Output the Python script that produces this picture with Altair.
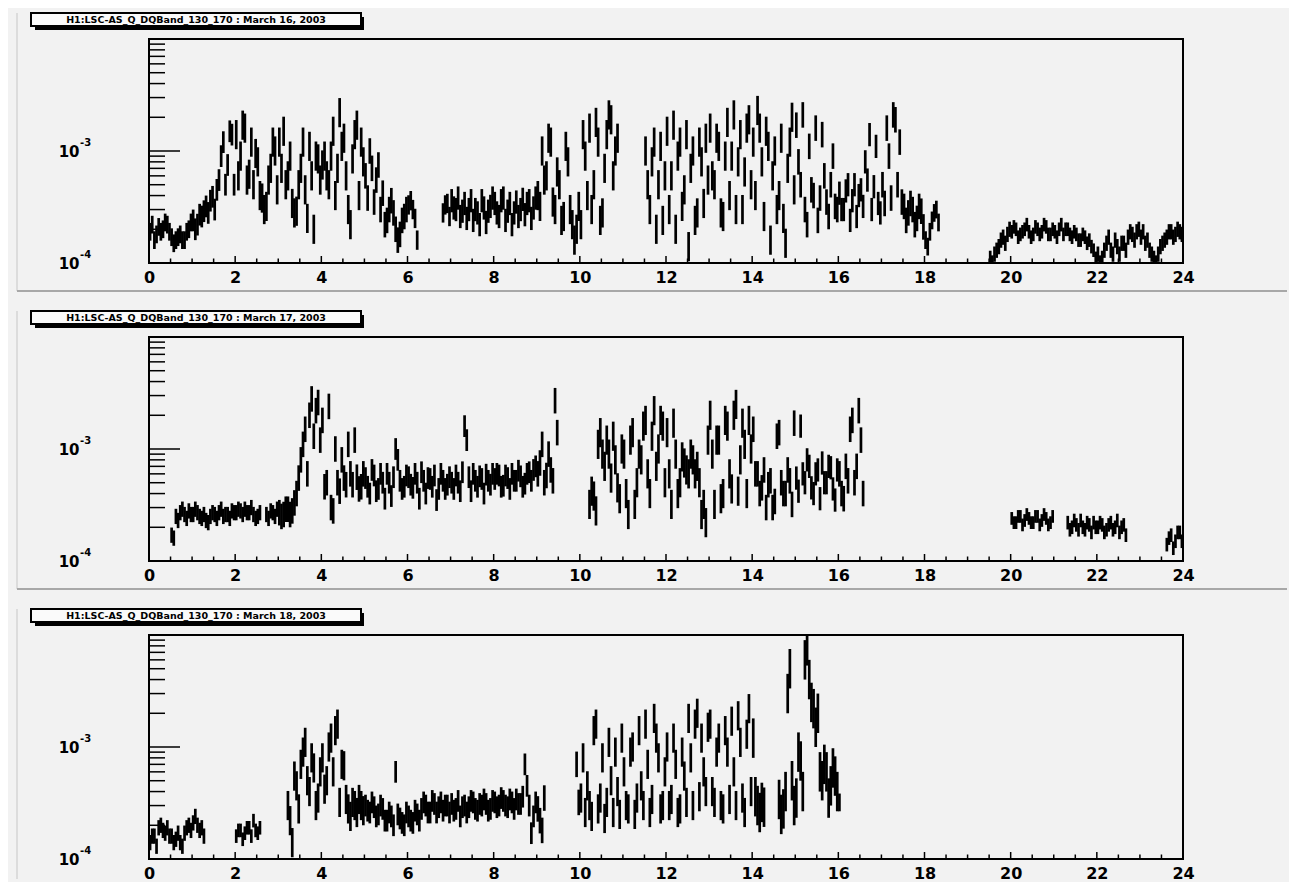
import altair as alt
import pandas as pd

N = None
STEP = 0.1  # hours per bin; each bin holds two readings (a and b)

titles = [
    "H1:LSC-AS_Q_DQBand_130_170 : March 16, 2003",
    "H1:LSC-AS_Q_DQBand_130_170 : March 17, 2003",
    "H1:LSC-AS_Q_DQBand_130_170 : March 18, 2003",
]

# band RMS level, in units of 1e-4 (None = no data); 10 bins per hour, two readings per bin
mar16_a = [
    1.9, 1.6, 2.1, 2.0, 2.2, 1.7, 1.6, 1.8, 1.6, 2.0,
    2.4, 2.2, 2.6, 3.2, 3.6, 3.0, 5.5, 12.0, 7.5, 14.0,
    14.0, 9.0, 16.0, 6.2, 5.0, 8.0, 3.8, 3.2, 7.0, 10.0,
    12.0, 15.0, 6.0, 3.4, 2.9, 7.0, 4.5, 11.0, 2.0, 8.5,
    7.5, 6.0, 9.0, 4.0, 22.0, 13.0, 3.0, 8.5, 17.0, 12.0,
    6.0, 10.0, 3.5, 7.5, 4.2, 2.4, 3.6, 2.0, 1.8, 2.6,
    3.3, 3.0, 1.6, N, N, N, N, N, 2.8, 3.4,
    3.6, 3.0, 2.6, 3.4, 3.0, 2.4, 2.8, 3.6, 2.3, 3.2,
    3.4, 2.6, 3.8, 2.9, 2.2, 3.5, 3.0, 2.7, 3.6, 3.1,
    4.0, 10.0, 6.0, 12.0, 3.0, 5.0, 2.6, 8.0, 2.2, 2.0,
    2.2, 9.0, 16.0, 5.0, 12.0, 2.8, 14.0, 19.0, 10.0, N,
    N, N, N, N, N, 10.0, 3.0, 12.0, 5.0, 2.4,
    15.0, 6.0, 2.0, 12.0, 4.5, 1.4, 10.0, 2.8, 8.0, 13.0,
    16.0, 5.0, 11.0, 2.6, 18.0, 9.0, 3.0, 14.0, 6.5, 19.0,
    12.0, 23.0, 8.0, 15.0, 1.6, 10.0, 4.0, 2.5, 7.0, 20.0,
    17.0, 5.0, 3.0, 11.0, 4.0, 2.4, 14.0, 3.5, 5.0, 3.2,
    4.2, 3.0, 5.0, 3.6, 2.6, 4.5, 8.0, 14.0, 4.8, 3.4,
    5.0, 16.0, 3.8, 19.0, 12.0, 3.2, 2.8, 3.0, 2.5, 2.9,
    1.6, 1.9, 2.8, 2.3, N, N, N, N, N, N,
    N, N, N, N, N, 1.1, 1.2, 1.4, 1.7, 1.8,
    1.9, 2.0, 1.8, 2.0, 1.9, 1.8, 2.0, 1.9, 2.1, 1.8,
    1.9, 2.0, 1.8, 2.0, 1.7, 1.8, 1.6, 1.7, 1.6, 1.3,
    1.2, 1.1, 1.5, 1.3, 1.6, 1.2, 1.5, 1.7, 1.8, 1.9,
    1.7, 1.5, 1.3, 1.1, 1.2, 1.5, 1.7, 1.9, 1.8, 1.9,
]
mar16_b = [
    2.2, 1.8, 1.9, 2.3, 1.9, 1.5, 1.7, 1.6, 1.9, 2.3,
    2.0, 2.7, 2.9, 2.8, 3.9, 4.5, 9.0, 5.0, 15.0, 5.0,
    6.0, 17.0, 5.5, 12.0, 9.5, 4.0, 3.0, 5.5, 12.0, 4.5,
    7.0, 5.0, 9.0, 2.8, 5.0, 12.0, 2.5, 6.0, 9.0, 5.5,
    9.0, 5.0, 15.0, 7.0, 11.0, 6.0, 2.2, 14.0, 4.0, 8.0,
    3.8, 7.0, 5.5, 3.0, 2.2, 3.0, 2.8, 1.6, 2.4, 3.0,
    3.6, 2.5, N, N, N, N, N, N, 3.3, 2.6,
    3.1, 3.8, 2.9, 2.5, 3.6, 3.0, 2.2, 3.1, 2.9, 3.8,
    2.8, 3.6, 2.4, 3.4, 2.8, 2.6, 3.7, 3.4, 2.5, 3.8,
    3.2, 5.5, 13.0, 3.5, 6.5, 2.4, 11.0, 3.0, 1.6, 3.2,
    14.0, 4.0, 3.0, 18.0, 2.4, 7.0, 21.0, 6.0, 13.0, N,
    N, N, N, N, N, 5.0, 8.0, 2.0, 11.0, 6.0,
    3.0, 17.0, 9.0, 3.2, 14.0, 7.0, 2.4, 12.0, 3.4, 5.5,
    6.0, 13.0, 2.8, 9.0, 4.0, 21.0, 8.0, 3.0, 16.0, 5.0,
    4.0, 16.0, 2.6, 11.0, 6.0, 3.0, 13.0, 1.5, 12.0, 4.5,
    8.0, 21.0, 2.2, 4.5, 16.0, 3.8, 6.0, 2.6, 9.0, 3.0,
    3.0, 4.4, 2.4, 5.0, 4.0, 3.2, 5.5, 3.0, 11.0, 2.8,
    3.4, 9.0, 21.0, 5.0, 3.5, 2.4, 3.4, 2.2, 3.2, 2.1,
    1.4, 2.4, 3.0, N, N, N, N, N, N, N,
    N, N, N, N, N, 1.0, 1.3, 1.6, 1.5, 2.0,
    2.1, 1.7, 1.9, 2.2, 1.7, 2.1, 1.8, 2.2, 1.8, 2.0,
    1.7, 2.2, 2.0, 1.8, 1.9, 1.6, 1.8, 1.5, 1.4, 1.1,
    1.0, 1.3, 1.7, 1.2, 1.4, 1.5, 1.3, 1.9, 1.6, 2.0,
    1.9, 1.6, 1.2, 1.0, 1.4, 1.6, 1.9, 1.7, 2.0, 1.8,
]
mar16_spread = [1.2, 1.25, 1.35, 1.35, 1.35, 1.3, 1.22, 1.27, 1.27, 1.35, 1.35, 1.35,
                1.35, 1.35, 1.35, 1.3, 1.27, 1.3, 1.2, 1.17, 1.15, 1.15, 1.17, 1.17]

mar17_a = [
    N, N, N, N, N, 1.7, 2.5, 2.7, 2.6, 2.8,
    2.6, 2.7, 2.4, 2.3, 2.5, 2.6, 2.7, 2.5, 2.6, 2.8,
    2.7, 2.8, 2.9, 2.7, 2.6, 2.5, N, 2.6, 2.8, 2.5,
    2.7, 2.6, 2.9, 2.8, 4.0, 8.0, 15.0, 20.0, 13.0, 26.0,
    18.0, 5.0, 3.0, 10.0, 4.2, 5.5, 11.0, 4.8, 5.6, 4.6,
    5.5, 4.0, 5.8, 4.4, 5.0, 6.0, 3.8, 10.0, 5.2, 4.6,
    5.6, 4.5, 5.0, 6.2, 4.0, 5.4, 5.8, 4.4, 5.2, 4.8,
    5.0, 5.8, 4.2, 16.0, 5.6, 6.0, 4.6, 5.4, 5.9, 4.8,
    5.4, 5.8, 4.7, 5.5, 6.0, 5.2, 5.7, 4.9, 6.2, 6.5,
    6.0, 11.0, 5.8, 6.5, 27.0, N, N, N, N, N,
    N, N, 3.2, 3.8, 11.0, 9.0, 12.0, 5.5, 8.0, 3.6,
    9.0, 2.6, 14.0, 5.0, 8.0, 18.0, 4.0, 22.0, 10.0, 16.0,
    14.0, 3.2, 9.0, 5.0, 7.5, 6.0, 8.0, 7.0, 2.6, 2.2,
    20.0, 3.2, 12.0, 4.0, 16.0, 4.4, 25.0, 8.0, 11.0, 18.0,
    15.0, 6.0, 4.5, 3.0, 5.2, 3.4, 14.0, 4.0, 6.5, 3.2,
    5.5, 16.0, 5.0, 7.0, 4.0, 6.5, 7.5, 5.0, 6.8, 3.5,
    6.0, 3.6, 5.2, 18.0, 7.0, 12.0, N, N, N, N,
    N, N, N, N, N, N, N, N, N, N,
    N, N, N, N, N, N, N, N, N, N,
    N, N, N, N, N, N, N, N, N, N,
    2.4, 2.2, 2.5, 2.3, 2.4, 2.2, 2.5, 2.3, 2.4, 2.2,
    N, N, N, 2.2, 2.0, 2.1, 2.3, 1.9, 2.1, 2.2,
    2.0, 2.1, 1.9, 2.2, 2.0, 1.8, 2.1, N, N, N,
    N, N, N, N, N, N, 1.4, 1.7, 1.5, 1.8,
]
mar17_b = [
    N, N, N, N, N, 1.6, 2.3, 2.9, 2.4, 2.6,
    2.9, 2.5, 2.6, 2.2, 2.7, 2.4, 2.9, 2.6, 2.4, 2.7,
    2.9, 2.6, 2.7, 3.0, 2.4, 2.7, N, 2.4, 2.7, 2.9,
    2.5, 2.9, 2.6, 3.3, 5.5, 11.0, 6.0, 28.0, 22.0, 12.0,
    4.6, 24.0, 2.8, 5.0, 8.0, 4.8, 6.0, 12.0, 4.4, 6.0,
    4.6, 6.5, 4.2, 6.0, 3.6, 5.0, 5.6, 8.0, 4.4, 5.8,
    4.8, 6.0, 3.6, 5.2, 5.5, 4.6, 3.5, 6.0, 4.4, 5.6,
    4.4, 5.0, 6.2, 12.0, 4.2, 5.2, 5.7, 4.0, 5.2, 6.0,
    6.0, 4.6, 5.8, 4.4, 5.2, 6.4, 4.6, 6.0, 5.2, 7.0,
    7.5, 5.0, 9.0, 5.2, 14.0, N, N, N, N, N,
    N, N, 4.2, 2.8, 14.0, 7.0, 9.0, 13.0, 4.5, 10.0,
    4.0, 12.0, 3.2, 9.0, 16.0, 6.0, 13.0, 7.0, 18.0, 5.0,
    6.0, 17.0, 4.0, 8.5, 6.5, 9.0, 6.0, 5.0, 3.2, 12.0,
    9.0, 12.0, 3.6, 18.0, 6.0, 20.0, 4.2, 17.0, 4.0, 10.0,
    6.0, 4.0, 6.5, 4.8, 3.0, 13.0, 5.0, 4.0, 5.2, 17.0,
    4.2, 6.0, 8.0, 4.5, 6.0, 3.6, 5.0, 7.0, 4.4, 6.5,
    4.0, 7.0, 15.0, 5.0, 22.0, 4.0, N, N, N, N,
    N, N, N, N, N, N, N, N, N, N,
    N, N, N, N, N, N, N, N, N, N,
    N, N, N, N, N, N, N, N, N, N,
    2.2, 2.5, 2.1, 2.6, 2.2, 2.5, 2.1, 2.6, 2.1, 2.5,
    N, N, N, 1.9, 2.3, 1.9, 2.0, 2.2, 1.8, 2.0,
    2.2, 1.8, 2.1, 1.9, 2.3, 2.0, 1.7, N, N, N,
    N, N, N, N, N, N, 1.6, 1.3, 1.8, 1.5,
]
mar17_spread = [1.17, 1.17, 1.17, 1.3, 1.3, 1.25, 1.25, 1.25, 1.25, 1.3, 1.35, 1.35,
                1.35, 1.35, 1.3, 1.27, 1.3, 1.0, 1.0, 1.0, 1.14, 1.15, 1.15, 1.15]

mar18_a = [
    1.4, 1.6, 1.9, 1.8, 1.9, 1.6, 1.5, 1.4, 1.7, 2.0,
    2.1, 2.0, 1.9, N, N, N, N, N, N, N,
    1.6, 1.8, 1.7, 1.9, 2.2, 1.7, N, N, N, N,
    N, N, 3.0, 1.4, 4.5, 7.0, 11.0, 4.0, 6.5, 3.5,
    8.0, 5.0, 12.0, 14.0, 3.2, 6.8, 2.8, 3.2, 2.6, 3.0,
    3.0, 2.6, 2.9, 2.5, 2.8, 2.2, 2.4, 6.0, 2.3, 2.0,
    2.4, 2.1, 2.5, 2.8, 3.0, 2.6, 3.1, 2.9, 2.7, 3.0,
    3.1, 2.8, 2.4, 3.0, 2.9, 3.2, 2.7, 3.0, 3.1, 2.8,
    3.2, 3.0, 3.3, 2.9, 3.2, 3.4, 3.1, 7.0, 3.0, 2.4,
    2.8, 1.8, N, N, N, N, N, N, N, 7.0,
    3.5, 2.6, 3.0, 14.0, 2.8, 8.0, 3.2, 5.0, 9.0, 2.5,
    6.0, 2.8, 10.0, 3.5, 4.5, 16.0, 2.6, 18.0, 8.0, 3.0,
    10.0, 3.4, 7.0, 2.8, 5.5, 18.0, 3.0, 20.0, 12.0, 4.0,
    16.0, 3.2, 12.0, 2.8, 9.0, 17.0, 3.0, 11.0, 2.6, 22.0,
    12.0, 3.0, 3.2, N, N, N, 3.4, 2.8, 30.0, 5.0,
    3.5, 7.5, 60.0, 40.0, 22.0, 20.0, 5.0, 6.0, 4.5, 5.5,
    3.2, N, N, N, N, N, N, N, N, N,
] + [N] * 70
mar18_b = [
    1.6, 1.3, 2.0, 1.7, 1.6, 1.4, 1.7, 1.3, 1.9, 1.8,
    2.4, 1.8, 1.6, N, N, N, N, N, N, N,
    1.8, 1.5, 1.9, 1.6, 1.8, 1.9, N, N, N, N,
    N, N, 2.2, 5.5, 2.8, 9.0, 5.0, 8.0, 3.0, 6.0,
    4.2, 10.0, 6.0, 16.0, 7.0, 3.4, 2.4, 3.0, 3.4, 2.7,
    2.7, 3.2, 2.4, 3.0, 2.2, 2.6, 2.0, 2.5, 2.1, 2.6,
    2.2, 2.7, 2.2, 3.2, 2.6, 3.3, 2.6, 3.2, 3.0, 2.6,
    2.7, 3.3, 2.9, 2.6, 3.3, 2.8, 3.1, 3.4, 2.7, 3.3,
    2.9, 3.5, 3.0, 3.4, 2.8, 3.1, 3.6, 4.5, 1.7, 3.2,
    2.2, 3.5, N, N, N, N, N, N, N, 3.2,
    8.0, 4.5, 2.4, 16.0, 3.5, 2.3, 11.0, 2.6, 4.0, 12.0,
    3.0, 9.0, 2.5, 14.0, 3.0, 7.0, 3.4, 12.0, 2.8, 6.0,
    3.0, 12.0, 2.6, 9.0, 3.2, 8.0, 16.0, 3.6, 6.0, 15.0,
    4.0, 9.0, 3.0, 14.0, 3.4, 6.0, 19.0, 3.5, 13.0, 4.0,
    3.6, 2.6, 2.9, N, N, N, 2.5, 4.0, 50.0, 3.0,
    9.0, 4.0, 80.0, 25.0, 15.0, 6.0, 7.0, 3.5, 6.5, 4.0,
    N, N, N, N, N, N, N, N, N, N,
] + [N] * 70
mar18_spread = [1.17, 1.17, 1.15, 1.35, 1.35, 1.25, 1.25, 1.25, 1.25, 1.3, 1.35, 1.35,
                1.35, 1.35, 1.5, 1.5, 1.2, 1.0, 1.0, 1.0, 1.0, 1.0, 1.0, 1.0]

x_labels = [0, 2, 4, 6, 8, 10, 12, 14, 16, 18, 20, 22, 24]
x_minor = [0.5, 1, 1.5, 2.5, 3, 3.5, 4.5, 5, 5.5, 6.5, 7, 7.5, 8.5, 9, 9.5,
           10.5, 11, 11.5, 12.5, 13, 13.5, 14.5, 15, 15.5, 16.5, 17, 17.5,
           18.5, 19, 19.5, 20.5, 21, 21.5, 22.5, 23, 23.5]
x_major = [2, 4, 6, 8, 10, 12, 14, 16, 18, 20, 22]
y_labels = [1e-4, 1e-3]
y_exponents = ["-4", "-3"]
y_minor = [2e-4, 3e-4, 4e-4, 5e-4, 6e-4, 7e-4, 8e-4, 9e-4,
           2e-3, 3e-3, 4e-3, 5e-3, 6e-3, 7e-3, 8e-3, 9e-3]
y_major = [1e-4, 1e-3]

W, H = 1034, 224
FONT = "DejaVu Sans"


def to_frame(a, b, spread):
    rows = []
    for series, off in ((a, 0.25), (b, 0.75)):
        for i, v in enumerate(series):
            if v is None:
                continue
            f = spread[i // 10]
            rows.append({"t": (i + off) * STEP, "lo": v * 1e-4 / f, "hi": v * 1e-4 * f})
    return pd.DataFrame(rows)


xs = alt.Scale(domain=[0, 24], nice=False, zero=False)
ys = alt.Scale(type="log", domain=[1e-4, 1e-2], nice=False)
x_axis = alt.Axis(values=x_labels, title=None, labelPadding=6, labelFlush=False,
                  labelOverlap=False)
y_axis = alt.Axis(values=y_labels, title=None, labelPadding=70, labelFlush=False,
                  labelOverlap=False, labelFontSize=15, labelExpr="'10'")


def panel(a, b, spread, title, last=False):
    df = to_frame(a, b, spread)
    bars = alt.Chart(df).mark_rule(color="black", strokeWidth=2.7, clip=True).encode(
        x=alt.X("t:Q", scale=xs, axis=x_axis),
        y=alt.Y("lo:Q", scale=ys, axis=y_axis),
        y2="hi:Q",
    )
    ymin = alt.Chart(pd.DataFrame({"lo": y_minor})).mark_rule(color="black", strokeWidth=1.5).encode(
        y=alt.Y("lo:Q", scale=ys, axis=y_axis), x=alt.value(0), x2=alt.value(16))
    ymaj = alt.Chart(pd.DataFrame({"lo": y_major})).mark_rule(color="black", strokeWidth=1.5).encode(
        y=alt.Y("lo:Q", scale=ys, axis=y_axis), x=alt.value(0), x2=alt.value(31))
    yexp = alt.Chart(pd.DataFrame({"lo": y_labels, "e": y_exponents})).mark_text(
        font=FONT, fontWeight="bold", fontSize=10, align="left", baseline="middle",
        dy=-8, color="black").encode(
        y=alt.Y("lo:Q", scale=ys, axis=y_axis), x=alt.value(-69), text="e:N")
    xmin = alt.Chart(pd.DataFrame({"t": x_minor})).mark_rule(color="black", strokeWidth=1.5).encode(
        x=alt.X("t:Q", scale=xs, axis=x_axis), y=alt.value(H), y2=alt.value(H - 4.5))
    xmaj = alt.Chart(pd.DataFrame({"t": x_major})).mark_rule(color="black", strokeWidth=1.5).encode(
        x=alt.X("t:Q", scale=xs, axis=x_axis), y=alt.value(H), y2=alt.value(H - 7))
    tdf = pd.DataFrame({"title": [title]})
    shadow = alt.Chart(tdf).mark_rect(color="black").encode(
        x=alt.value(-114), x2=alt.value(215), y=alt.value(-22), y2=alt.value(-9))
    box = alt.Chart(tdf).mark_rect(fill="#fafafa", stroke="black", strokeWidth=2).encode(
        x=alt.value(-118), x2=alt.value(212), y=alt.value(-26), y2=alt.value(-13))
    txt = alt.Chart(tdf).mark_text(font=FONT, fontWeight="bold", fontSize=9.5, align="center",
                                   baseline="middle", color="black").encode(
        x=alt.value(47), y=alt.value(-19.5), text="title:N")
    left = alt.Chart(tdf).mark_rule(color="#d4d4d4", strokeWidth=1.5).encode(
        x=alt.value(-132), y=alt.value(-26), y2=alt.value(244 if last else 252))
    layers = [bars, ymin, ymaj, yexp, xmin, xmaj, shadow, box, txt, left]
    if not last:
        sep = alt.Chart(tdf).mark_rule(color="#a8a8a8", strokeWidth=2).encode(
            x=alt.value(-132), x2=alt.value(1138), y=alt.value(252))
        layers.append(sep)
    return alt.layer(*layers).properties(width=W, height=H)


p1 = panel(mar16_a, mar16_b, mar16_spread, titles[0])
p2 = panel(mar17_a, mar17_b, mar17_spread, titles[1])
p3 = panel(mar18_a, mar18_b, mar18_spread, titles[2], last=True)

chart = alt.vconcat(p1, p2, p3, spacing=74, bounds="flush").properties(
    padding={"left": 7, "top": 3, "right": 0, "bottom": 0},
    background="#f2f2f2",
).configure_view(
    stroke="black", strokeWidth=2, fill=None
).configure_axis(
    grid=False, domain=False, ticks=False,
    labelFont=FONT, labelFontWeight="bold", labelFontSize=16, labelColor="black",
)

chart.save("out.html", embed_options={"renderer": "svg", "actions": False})
